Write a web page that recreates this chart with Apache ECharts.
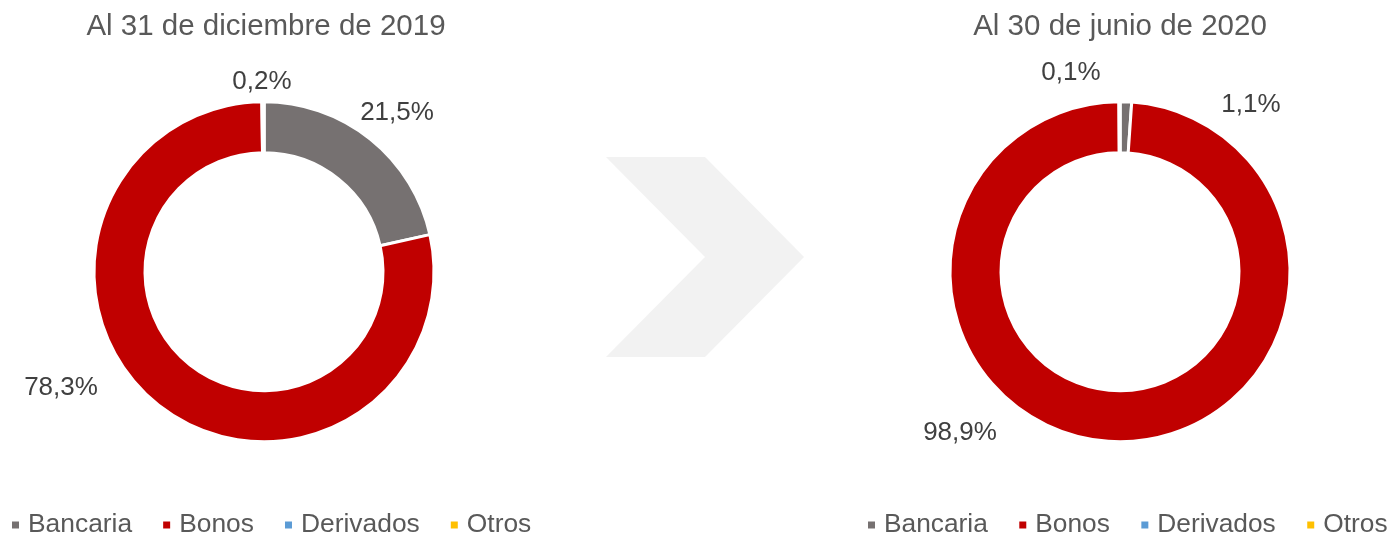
<!DOCTYPE html>
<html>
<head>
<meta charset="utf-8">
<script src="https://cdn.jsdelivr.net/npm/echarts@6/dist/echarts.min.js"></script>
<style>
html,body{margin:0;padding:0;background:#fff;}
#c{width:1389px;height:534px;}
</style>
</head>
<body>
<div id="c"></div>
<script>
var categories = ['Bancaria', 'Bonos', 'Derivados', 'Otros'];
var titles = ['Al 31 de diciembre de 2019', 'Al 30 de junio de 2020'];
var values2019 = [21.5, 78.3, 0.2, 0];
var values2020 = [1.1, 98.9, 0.1, 0];
var colors = ['#767171', '#C00000', '#5B9BD5', '#FFC000'];

// label anchor positions (px) per chart, per category
var labelPos = [
  [[397, 113], [61, 388], [262, 82], null],
  [[1251, 105], [960, 433], [1071, 73], null]
];

var chart = echarts.init(document.getElementById('c'), null, {renderer: 'canvas'});

function fmt(v) { return v.toFixed(1).replace('.', ',') + '%'; }

function makeSeries(idx, vals, cx) {
  return {
    type: 'pie',
    name: titles[idx],
    center: [cx, 271.7],
    radius: [119, 170],
    startAngle: 90,
    clockwise: true,
    avoidLabelOverlap: false,
    animation: false,
    silent: true,
    itemStyle: {borderColor: '#ffffff', borderWidth: 3},
    label: {
      show: true,
      position: 'outside',
      fontFamily: 'Liberation Sans, Arial, sans-serif',
      fontSize: 26,
      color: '#404040',
      formatter: function (p) { return p.value > 0 ? fmt(p.value) : ''; }
    },
    labelLine: {show: false},
    labelLayout: function (p) {
      var pos = labelPos[idx][p.dataIndex];
      if (!pos) return {};
      return {x: pos[0], y: pos[1], align: 'center', verticalAlign: 'middle'};
    },
    data: categories.map(function (c, i) {
      return {name: c, value: vals[i], itemStyle: {color: colors[i]}};
    })
  };
}

function legendFor(left, fs, gap, tp, si) {
  return {
    data: categories,
    seriesIndex: si,
    icon: 'rect',
    itemWidth: 9,
    itemHeight: 9,
    itemGap: gap,
    padding: 0,
    width: 700,
    textStyle: {fontFamily: 'Liberation Sans, Arial, sans-serif', fontSize: fs, color: '#595959', padding: [0, 0, 0, tp]},
    selectedMode: false,
    orient: 'horizontal',
    top: 512,
    left: left
  };
}

chart.setOption({
  backgroundColor: '#ffffff',
  color: colors,
  title: [
    {text: titles[0], left: 261, top: 7, textAlign: 'center',
     textStyle: {fontFamily: 'Liberation Sans, Arial, sans-serif', fontSize: 29.5, fontWeight: 'normal', color: '#595959'}},
    {text: titles[1], left: 1115, top: 7, textAlign: 'center',
     textStyle: {fontFamily: 'Liberation Sans, Arial, sans-serif', fontSize: 29.5, fontWeight: 'normal', color: '#595959'}}
  ],
  legend: [
    legendFor(10, 26.4, 29, 3, 0),
    legendFor(866, 26.3, 29.5, 3, 1)
  ],
  graphic: [{
    type: 'polygon',
    silent: true,
    z: -1,
    shape: {points: [[606, 157], [705, 157], [804, 257], [705, 357], [606, 357], [705, 257]]},
    style: {fill: '#f2f2f2'}
  }],
  series: [
    makeSeries(0, values2019, 264),
    makeSeries(1, values2020, 1120)
  ]
});
</script>
</body>
</html>
